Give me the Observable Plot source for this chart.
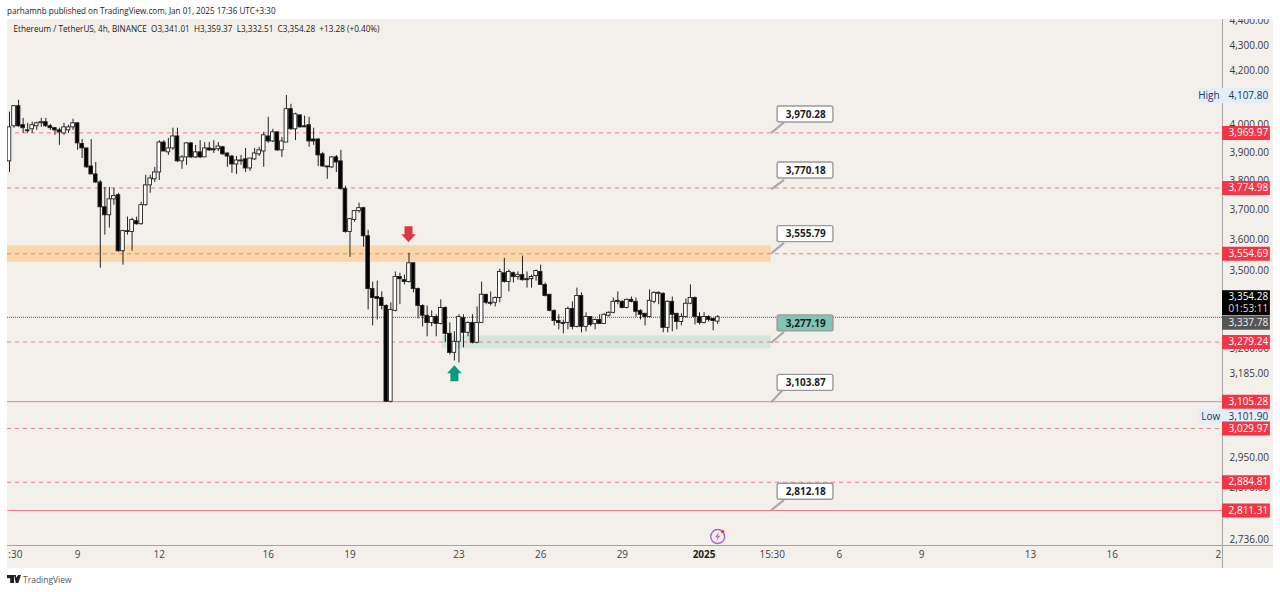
<!DOCTYPE html>
<html><head><meta charset="utf-8">
<script src="https://cdn.jsdelivr.net/npm/d3@7"></script>
<script src="https://cdn.jsdelivr.net/npm/@observablehq/plot@0.6"></script>
<style>
html,body{margin:0;padding:0;background:#fff;overflow:hidden;width:1280px;height:592px}
#top{height:19px;padding-left:7px;font:8.1px/21px "Open Sans",sans-serif;color:#222;white-space:nowrap;box-sizing:border-box;overflow:hidden}
#panel{margin-left:7px;width:1266px;height:549px;background:#f3f0ec}
#panel svg{display:block}
#foot{height:24px;position:relative;font:8.5px "Open Sans",sans-serif;color:#555}
#foot span{position:absolute;left:23px;top:6px}
.lg{position:absolute;background:#222;top:7px}
</style></head><body>
<div id="top">parhamnb published on TradingView.com, Jan 01, 2025 17:36 UTC+3:30</div>
<div id="panel"></div>
<div id="foot">
<div class="lg" style="left:7px;width:7px;height:8px;clip-path:polygon(0 0,100% 0,100% 100%,45% 100%,45% 40%,0 40%)"></div>
<div class="lg" style="left:14px;width:7px;height:8px;clip-path:polygon(0 0,28% 0,28% 35%,60% 0,100% 0,62% 100%,25% 100%)"></div>
<span>TradingView</span></div>
<script>
const opens=[3868,3994,4068,3998,3979,3983,3994,4005,4009,3994,
3987,3979,3968,3979,3990,4005,3930,3914,3850,3822,
3794,3709,3682,3736,3750,3563,3629,3626,3662,3652,
3716,3784,3805,3829,3935,3900,3914,3957,3868,3882,
3932,3882,3900,3882,3914,3911,3911,3918,3896,3885,
3857,3871,3875,3843,3875,3893,3903,3957,3939,3972,
3907,3935,4057,3983,4034,3994,3998,3946,3946,3893,
3850,3847,3882,3868,3771,3626,3666,3696,3706,3612,
3442,3417,3414,3389,3105,3374,3480,3470,3464,3524,
3442,3389,3359,3337,3355,3334,3383,3304,3247,3280,
3352,3307,3337,3277,3337,3424,3399,3399,3414,3492,
3464,3492,3480,3486,3473,3473,3483,3496,3455,3424,
3374,3343,3337,3337,3380,3325,3420,3325,3355,3334,
3346,3334,3359,3368,3405,3402,3383,3408,3402,3374,
3365,3355,3402,3427,3427,3322,3402,3365,3340,3355,
3396,3414,3355,3337,3355,3349,3341.01];
const highs=[4046,4071,4090,4023,4005,4009,4009,4023,4023,4001,
3990,3987,4005,3998,4020,4005,3946,3914,3946,3864,
3801,3777,3777,3774,3757,3632,3676,3672,3676,3726,
3819,3819,3847,3942,3942,3950,3987,3987,3889,3935,
3935,3925,3942,3935,3935,3942,3935,3921,3896,3889,
3885,3889,3914,3878,3914,3918,3972,4027,3983,3972,
3953,4107.8,4075,4042,4034,4031,4027,3987,3950,3900,
3850,3885,3889,3907,3781,3672,3696,3723,3709,3632,
3464,3467,3433,3393,3399,3496,3492,3486,3556,3524,
3445,3393,3389,3374,3362,3408,3386,3337,3310,3362,
3362,3340,3362,3386,3464,3424,3433,3417,3505,3540,
3502,3496,3496,3547,3496,3486,3502,3518,3461,3424,
3377,3362,3346,3386,3402,3445,3430,3368,3355,3349,
3362,3365,3371,3414,3433,3405,3411,3417,3414,3377,
3365,3439,3433,3433,3430,3405,3417,3365,3365,3411,
3455,3417,3368,3368,3359,3352,3359.37];
const lows=[3829,3987,3990,3968,3968,3968,3979,3990,3990,3979,
3961,3925,3961,3968,3979,3907,3878,3843,3822,3791,
3508,3616,3639,3716,3560,3518,3616,3563,3649,3649,
3713,3757,3794,3801,3903,3889,3907,3864,3840,3854,
3878,3878,3878,3882,3903,3896,3903,3889,3847,3826,
3822,3854,3829,3833,3871,3885,3847,3932,3935,3903,
3882,3935,3979,3942,3987,3990,3918,3925,3850,3847,
3805,3843,3829,3767,3622,3543,3659,3689,3576,3377,
3328,3346,3377,3105,3101.9,3371,3393,3455,3461,3430,
3349,3325,3295,3325,3295,3331,3277,3241,3223,3217,
3262,3295,3274,3274,3337,3393,3389,3386,3399,3461,
3433,3461,3470,3467,3445,3445,3467,3455,3417,3371,
3328,3316,3304,3316,3316,3322,3307,3310,3325,3316,
3334,3334,3355,3365,3393,3380,3380,3399,3355,3346,
3328,3352,3396,3393,3307,3307,3310,3316,3328,3352,
3393,3331,3331,3334,3340,3313,3332.51];
const closes=[3990,4068,3994,3987,3976,3998,4005,4009,3994,3987,
3979,3972,3990,3990,4005,3932,3914,3847,3822,3794,
3709,3682,3736,3747,3563,3629,3626,3666,3652,3716,
3784,3808,3829,3935,3903,3914,3957,3868,3882,3932,
3882,3900,3882,3914,3907,3907,3921,3893,3885,3857,
3871,3868,3843,3878,3896,3907,3961,3939,3972,3907,
3939,4057,3983,4038,3990,3990,3939,3939,3889,3850,
3847,3882,3864,3771,3626,3669,3696,3706,3612,3442,
3414,3411,3389,3105,3377,3480,3473,3464,3524,3442,
3389,3359,3337,3355,3334,3383,3304,3247,3280,3355,
3307,3337,3277,3337,3424,3399,3396,3414,3496,3464,
3496,3480,3486,3470,3470,3480,3499,3455,3420,3374,
3343,3337,3334,3380,3325,3420,3325,3355,3331,3346,
3334,3362,3368,3402,3402,3383,3408,3402,3371,3362,
3355,3405,3430,3430,3322,3402,3362,3340,3355,3396,
3414,3355,3337,3355,3346,3343,3354.28];

const yTicks=[4400,4300,4200,4000,3900,3800,3700,3600,3500,3260,3185,2950,2870,2736];
const xTicks=[2.3,16,34,58,76,100,118,136,169,183.8,201.9,225.9,243.9,267.3];
const xTickLabels=[":30","9","12","16","19","23","26","29","15:30","6","9","13","16","2"];
const yearTick=[154];
const dashedLevels=[3969.97,3774.98,3554.69,3279.24,3029.97,2884.81];
const solidLevels=[3105.28,2811.31];
const callPrices=[3970.28,3770.18,3555.79,3277.19,3103.87,2812.18];
const callCenters=[4037,3836,3619,3335.5,3159,2860];
const callBottoms=[4008,3803,3590,3310,3143,2838];
const callFills=["#fff","#fff","#fff","#7fc4b5","#fff","#fff"];

const candles=opens.map((o,k)=>({i:k+1,o,h:highs[k],l:lows[k],c:closes[k]}));
const callouts=callPrices.map((p,k)=>({p,m:callCenters[k],b:callBottoms[k],f:callFills[k]}));
const fmt=d3.format(",.2f");
const L=0.56,R=268.2,G=278.75,Z=168.8,VC=273.9;
const cst=v=>()=>v;
const font='"Open Sans",sans-serif';
const black="#000";

const arrowDown={draw(c,s){const r=Math.sqrt(s/Math.PI);const a=r*.5,b=r*.9;
 c.moveTo(-a,-r);c.lineTo(a,-r);c.lineTo(a,0);c.lineTo(b,0);c.lineTo(0,r);c.lineTo(-b,0);c.lineTo(-a,0);c.closePath();}};
const arrowUp={draw(c,s){const r=Math.sqrt(s/Math.PI);const a=r*.5,b=r*.9;
 c.moveTo(-a,r);c.lineTo(a,r);c.lineTo(a,0);c.lineTo(b,0);c.lineTo(0,-r);c.lineTo(-b,0);c.lineTo(-a,0);c.closePath();}};
const bolt={draw(c,s){const r=Math.sqrt(s/Math.PI);
 c.moveTo(r*.25,-r);c.lineTo(-r*.55,r*.15);c.lineTo(-r*.05,r*.15);c.lineTo(-r*.25,r);c.lineTo(r*.55,-r*.2);c.lineTo(r*.05,-r*.2);c.closePath();}};

const priceTag=(rows,fill)=>Plot.ruleY(rows,{x1:cst(R),x2:cst(G),stroke:fill,strokeWidth:14});
const tagText=(rows,fill,extra={})=>Plot.text(rows,{x:cst(VC),y:d=>d,text:d=>fmt(d),fill,fontSize:10,...extra});

const chart=Plot.plot({
 width:1266,height:549,marginLeft:0,marginRight:51,marginTop:0,marginBottom:23,
 style:{background:"transparent",fontFamily:font,fontSize:"10px",overflow:"hidden"},
 x:{type:"linear",domain:[L,R]},
 y:{type:"log",domain:[2722.8,4403.4]},
 marks:[
  Plot.rect([1],{x1:cst(L),x2:cst(Z),y1:cst(3527),y2:cst(3581),fill:"#fad7aa"}),
  Plot.rect([1],{x1:cst(96.4),x2:cst(Z),y1:cst(3259),y2:cst(3298),fill:"#d5e6df"}),
  Plot.ruleY(dashedLevels,{x1:cst(L),x2:cst(R),stroke:"#ee7f89",strokeWidth:1,strokeDasharray:"4,4"}),
  Plot.ruleY(solidLevels,{x1:cst(L),x2:cst(R),stroke:"#ee7f89",strokeWidth:1}),
  Plot.ruleY([3354.28],{x1:cst(L),x2:cst(R),stroke:"#555",strokeWidth:1,strokeDasharray:"1,1"}),
  Plot.ruleX(candles,{x:"i",y1:"l",y2:"h",stroke:"#222",strokeWidth:1}),
  Plot.rect(candles,{x1:d=>d.i-.4,x2:d=>d.i+.4,y1:"o",y2:"c",fill:d=>d.c>=d.o?"#fff":black,stroke:"#222",strokeWidth:.9}),
  Plot.dot([{x:88.9,y:3619}],{x:"x",y:"y",r:8,symbol:arrowDown,fill:"#d83a48",stroke:"none"}),
  Plot.dot([{x:99,y:3187}],{x:"x",y:"y",r:8,symbol:arrowUp,fill:"#0a9a7f",stroke:"none"}),
  Plot.link(callouts,{x1:cst(Z),y1:"p",x2:cst(171.6),y2:"b",stroke:"#a9a9a9",strokeWidth:2.2}),
  Plot.rect(callouts,{x1:cst(170.2),x2:cst(182.5),y1:"m",y2:"m",insetTop:-8,insetBottom:-8,rx:2,fill:"f",stroke:"#9a9a9a",strokeWidth:1.4}),
  Plot.text(callouts,{x:cst(176.4),y:"m",text:d=>fmt(d.p),fill:"#1d1d1d",fontSize:10,fontWeight:700}),
  Plot.dot([{x:157,y:2745}],{x:"x",y:"y",r:7,stroke:"#b566c9",strokeWidth:1.5,fill:"none"}),
  Plot.dot([{x:157,y:2745}],{x:"x",y:"y",r:4.5,symbol:bolt,fill:"#b566c9",stroke:"none"}),
  Plot.dot([{x:157,y:2745}],{x:"x",y:"y",r:1.7,dx:5,dy:-5,fill:"#e0344a",stroke:"none"}),
  Plot.ruleX([R],{stroke:"#a5a5a5",strokeWidth:1,insetBottom:-23}),
  Plot.ruleY([2722.8],{x1:cst(L),x2:cst(G+1.5),stroke:"#a5a5a5",strokeWidth:1}),
  Plot.axisY(yTicks,{anchor:"right",tickSize:0,tickPadding:7,label:null,tickFormat:fmt,fill:"#3a3a3a",fontSize:10}),
  Plot.axisX(xTicks,{anchor:"bottom",tickSize:0,tickPadding:5,label:null,tickFormat:d=>xTickLabels[xTicks.indexOf(d)],fill:"#444",fontSize:10}),
  Plot.axisX(yearTick,{anchor:"bottom",tickSize:0,tickPadding:5,label:null,tickFormat:()=>"2025",fill:"#222",fontSize:10,fontWeight:700}),
  Plot.text(["Ethereum / TetherUS, 4h, BINANCE  O3,341.01  H3,359.37  L3,332.51  C3,354.28  +13.28 (+0.40%)"],{frameAnchor:"top-left",dx:6,dy:7,lineAnchor:"top",fill:"#222",fontSize:8.2}),
  Plot.ruleY([4107.8],{x1:cst(262.7),x2:cst(G),stroke:"#e3eefa",strokeWidth:15}),
  tagText([4107.8],"#1e3558"),
  Plot.text([4107.8],{x:cst(265.2),y:d=>d,text:()=>"High",fill:"#1e3558",fontSize:10}),
  Plot.ruleY([3101.9],{x1:cst(263),x2:cst(G),stroke:"#e3eefa",strokeWidth:15,dy:13.5}),
  tagText([3101.9],"#1e3558",{dy:13.5}),
  Plot.text([3101.9],{x:cst(265.6),y:d=>d,dy:13.5,text:()=>"Low",fill:"#1e3558",fontSize:10}),
  Plot.ruleY([3354.28],{x1:cst(R),x2:cst(G),stroke:"#000",strokeWidth:25,dy:-14.5}),
  tagText([3354.28],"#fff",{dy:-20}),
  Plot.text([3354.28],{x:cst(VC),y:d=>d,dy:-8,text:()=>"01:53:11",fill:"#ddd",fontSize:10}),
  Plot.ruleY([3337.78],{x1:cst(R),x2:cst(G),stroke:"#555",strokeWidth:14}),
  tagText([3337.78],"#eee"),
  priceTag(dashedLevels,"#f23645"),
  priceTag(solidLevels,"#f23645"),
  tagText(dashedLevels,"#fff"),
  tagText(solidLevels,"#fff")
 ]
});
document.getElementById("panel").appendChild(chart);
</script>
</body></html>
